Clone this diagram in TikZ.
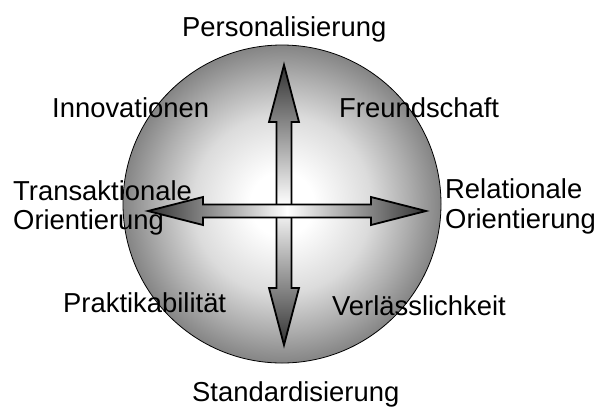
\documentclass[tikz,border=0pt]{standalone}
\usepackage{fontspec}
\setmainfont{Liberation Sans}
\pgfdeclareradialshading{ballshade}{\pgfpoint{0bp}{0bp}}{color(0bp)=(white); color(5bp)=(white); color(14bp)=(black!14); color(20bp)=(black!32); color(25bp)=(black!48); color(50bp)=(black!48)}
\begin{document}
\begin{tikzpicture}[x=1bp,y=-1bp,
  lbl/.style={inner sep=0pt,anchor=base west,font=\fontsize{27.5}{30}\selectfont},
  arrowshape/.style={draw=black,line width=1.8bp,line join=miter},
  ball/.style={circle,draw=black,line width=0.8bp,minimum size=318bp,inner sep=0pt,shading=ballshade}]
\useasboundingbox (0,0) rectangle (596,407);
\node[ball] (ball) at (282,204) {};
% vertical double arrow
\path[arrowshape,top color=black!80,bottom color=black!80,middle color=white]
  (284,65) -- (299,122) -- (291.5,122) -- (291.5,288) -- (299,288) -- (284,345)
  -- (269,288) -- (276.5,288) -- (276.5,122) -- (269,122) -- cycle;
% horizontal double arrow
\path[arrowshape,left color=black!80,right color=black!80,middle color=white]
  (148,211) -- (203,197) -- (203,204.5) -- (371,204.5) -- (371,197) -- (426,211)
  -- (371,225) -- (371,217.5) -- (203,217.5) -- (203,225) -- cycle;
\node[lbl] (pers) at (182,36) {Personalisierung};
\node[lbl] (inno) at (52,117) {Innovationen};
\node[lbl] (freu) at (339,117) {Freundschaft};
\node[lbl] (tra1) at (13,200) {Transaktionale};
\node[lbl] (tra2) at (13,229) {Orientierung};
\node[lbl] (rel1) at (445,198) {Relationale};
\node[lbl] (rel2) at (445,228) {Orientierung};
\node[lbl] (prak) at (63,312) {Praktikabilität};
\node[lbl] (verl) at (332,315) {Verlässlichkeit};
\node[lbl] (stan) at (192,401) {Standardisierung};
\end{tikzpicture}
\end{document}
